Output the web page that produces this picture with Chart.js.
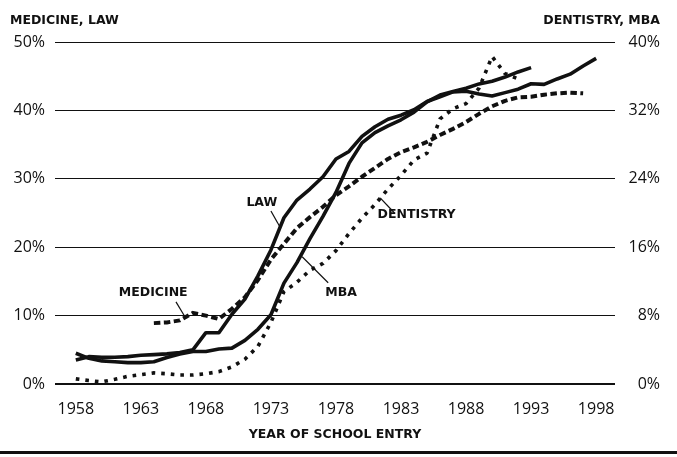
<!DOCTYPE html>
<html>
<head>
<meta charset="utf-8">
<title>Women entering professional schools</title>
<style>
  html, body { margin: 0; padding: 0; background: #fff; }
  #wrap { width: 677px; height: 457px; }
</style>
</head>
<body>
<div id="wrap"><canvas id="chart" width="677" height="457"></canvas></div>

<script src="https://cdn.jsdelivr.net/npm/chart.js"></script>
<script>
// values, one per year of school entry
const years = [1958, 1959, 1960, 1961, 1962, 1963, 1964, 1965, 1966, 1967,
               1968, 1969, 1970, 1971, 1972, 1973, 1974, 1975, 1976, 1977,
               1978, 1979, 1980, 1981, 1982, 1983, 1984, 1985, 1986, 1987,
               1988, 1989, 1990, 1991, 1992, 1993, 1994, 1995, 1996, 1997, 1998];

// left axis (medicine, law)
const lawPct = [3.5, 4.0, 3.9, 3.9, 4.0, 4.2, 4.3, 4.4, 4.6, 5.0,
                7.5, 7.5, 10.2, 12.4, 15.8, 19.6, 24.3, 26.9, 28.5, 30.3,
                32.9, 34.0, 36.2, 37.6, 38.7, 39.3, 40.1, 41.3, 42.0, 42.7,
                42.8, 42.4, 42.1, 42.6, 43.1, 43.9, 43.8, 44.6, 45.3, 46.5, 47.6];
const medicinePct = [null, null, null, null, null, null, 8.9, 9.0, 9.3, 10.4,
                     10.0, 9.5, 11.0, 12.7, 15.2, 18.2, 20.5, 22.8, 24.4, 25.9,
                     27.6, 28.9, 30.3, 31.6, 32.9, 33.9, 34.6, 35.4, 36.4, 37.3,
                     38.3, 39.5, 40.6, 41.4, 41.9, 42.0, 42.3, 42.5, 42.6, 42.5, null];

// right axis (dentistry, MBA)
const dentistryPct = [0.6, 0.4, 0.25, 0.55, 0.9, 1.1, 1.3, 1.2, 1.05, 1.05,
                      1.2, 1.45, 2.0, 2.9, 4.4, 7.2, 10.8, 11.9, 13.3, 14.1,
                      15.6, 17.6, 19.4, 21.0, 22.8, 24.4, 26.2, 27.0, 31.0, 32.2,
                      32.8, 34.6, 38.3, 36.3, 35.7, null, null, null, null, null, null];
const mbaPct = [3.6, 3.0, 2.7, 2.6, 2.5, 2.5, 2.6, 3.1, 3.5, 3.8,
                3.8, 4.1, 4.2, 5.1, 6.4, 8.1, 11.8, 14.2, 17.0, 19.6,
                22.4, 25.8, 28.2, 29.4, 30.2, 30.9, 31.8, 33.0, 33.8, 34.2,
                34.6, 35.1, 35.4, 35.9, 36.5, 37.0, null, null, null, null, null];

const tickYears = [1958, 1963, 1968, 1973, 1978, 1983, 1988, 1993, 1998];
const leftTicks = [0, 10, 20, 30, 40, 50];
const rightTicks = [0, 8, 16, 24, 32, 40];

// line labels: text, anchor [year, left-axis %], leader [year, %, year, %]
const noteText = ['LAW', 'MEDICINE', 'MBA', 'DENTISTRY'];
const noteAt = [[1972.3, 26.5], [1963.95, 13.3], [1978.4, 13.3], [1984.2, 24.7]];
const noteLeader = [[1973.0, 25.3, 1973.65, 23.1], [1965.7, 12.0, 1966.4, 9.8],
                    [1977.4, 14.8, 1975.4, 18.6], [1982.5, 25.0, 1981.4, 27.2]];

const FONT = "'Open Sans', 'DejaVu Sans', sans-serif";
const BOLD = "'DejaVu Sans', sans-serif";
const INK = '#111';

const decorations = {
  id: 'decorations',
  afterDatasetsDraw(chart) {
    const ctx = chart.ctx;
    const x = chart.scales.x, y = chart.scales.yL;
    ctx.save();
    ctx.fillStyle = INK;
    ctx.strokeStyle = INK;
    ctx.font = 'bold 12.5px ' + BOLD;
    ctx.textBaseline = 'middle';
    ctx.textAlign = 'center';
    noteText.forEach((t, i) => {
      ctx.fillText(t, x.getPixelForValue(noteAt[i][0]), y.getPixelForValue(noteAt[i][1]));
      const l = noteLeader[i];
      ctx.lineWidth = 1.2;
      ctx.beginPath();
      ctx.moveTo(x.getPixelForValue(l[0]), y.getPixelForValue(l[1]));
      ctx.lineTo(x.getPixelForValue(l[2]), y.getPixelForValue(l[3]));
      ctx.stroke();
    });
    // axis headings
    ctx.textBaseline = 'alphabetic';
    ctx.textAlign = 'left';
    ctx.fillText('MEDICINE, LAW', 10, 24);
    ctx.textAlign = 'right';
    ctx.fillText('DENTISTRY, MBA', 660, 24);
    // rule under the figure
    ctx.fillRect(0, 451, chart.width, 3);
    ctx.restore();
  }
};

new Chart(document.getElementById('chart'), {
  type: 'line',
  data: {
    labels: years,
    datasets: [
      { label: 'MBA outline', data: mbaPct, yAxisID: 'yR', borderColor: INK, borderWidth: 3.6 },
      { label: 'MBA', data: mbaPct, yAxisID: 'yR', borderColor: '#c4c4c4', borderWidth: 1.4 },
      { label: 'Dentistry', data: dentistryPct, yAxisID: 'yR', borderColor: INK, borderWidth: 3.6, borderDash: [3.6, 6] },
      { label: 'Medicine', data: medicinePct, yAxisID: 'yL', borderColor: INK, borderWidth: 4, borderDash: [6.5, 3.5] },
      { label: 'Law', data: lawPct, yAxisID: 'yL', borderColor: INK, borderWidth: 3.6 }
    ]
  },
  options: {
    responsive: false,
    animation: false,
    events: [],
    layout: { padding: { top: 42, right: 17, left: 0, bottom: 0 } },
    elements: {
      point: { radius: 0 },
      line: { tension: 0, borderCapStyle: 'butt', borderJoinStyle: 'round' }
    },
    plugins: { legend: { display: false }, tooltip: { enabled: false } },
    scales: {
      x: {
        type: 'linear',
        min: 1956.4,
        max: 1999.45,
        afterBuildTicks: s => { s.ticks = tickYears.map(v => ({ value: v })); },
        afterFit: s => { s.height = 73; },
        grid: { display: false },
        border: { display: false },
        ticks: { color: INK, font: { family: FONT, size: 16 }, padding: 8, maxRotation: 0, callback: v => String(v) },
        title: {
          display: true,
          text: 'YEAR OF SCHOOL ENTRY',
          color: INK,
          font: { family: BOLD, size: 12.5, weight: 'bold' },
          padding: { top: 0, bottom: 15 }
        }
      },
      yL: {
        position: 'left',
        min: 0,
        max: 50,
        afterBuildTicks: s => { s.ticks = leftTicks.map(v => ({ value: v })); },
        afterFit: s => { s.width = 55; },
        grid: {
          color: INK,
          lineWidth: c => (c.tick && c.tick.value === 0 ? 2 : 1),
          drawTicks: false
        },
        border: { display: false },
        ticks: { color: INK, font: { family: FONT, size: 16 }, padding: 10, callback: v => v + '%' }
      },
      yR: {
        position: 'right',
        min: 0,
        max: 40,
        afterBuildTicks: s => { s.ticks = rightTicks.map(v => ({ value: v })); },
        afterFit: s => { s.width = 45; },
        grid: { display: false, drawTicks: false },
        border: { display: false },
        ticks: { color: INK, font: { family: FONT, size: 16 }, crossAlign: 'far', callback: v => v + '%' }
      }
    }
  },
  plugins: [decorations]
});
</script>
</body>
</html>
